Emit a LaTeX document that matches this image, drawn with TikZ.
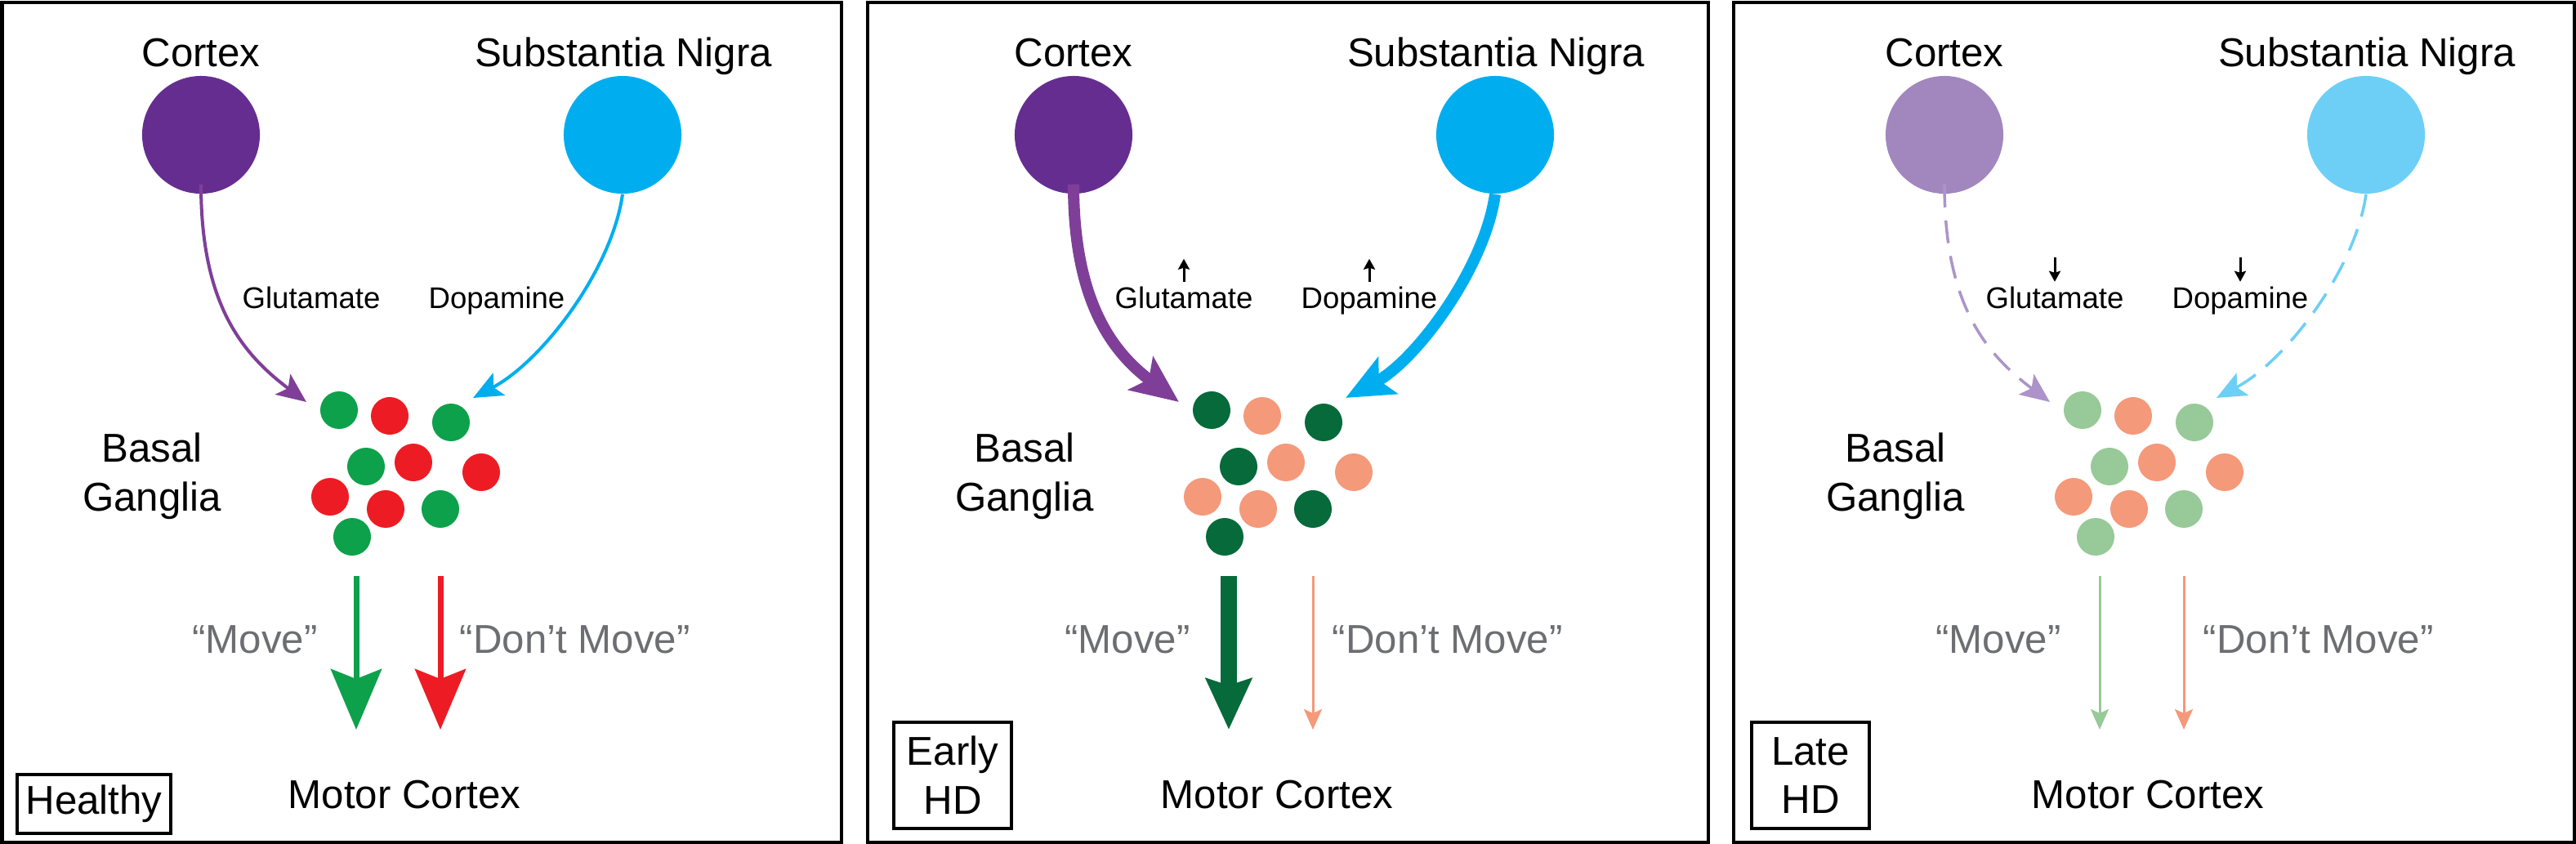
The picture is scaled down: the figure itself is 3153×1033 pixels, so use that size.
\documentclass[tikz,border=0pt]{standalone}
\usepackage{fontspec}
\setmainfont{Liberation Sans}
\usetikzlibrary{positioning,arrows.meta}

\definecolor{cortexHealthy}{RGB}{102,45,145}
\definecolor{cortexEarly}{RGB}{102,45,145}
\definecolor{cortexLate}{RGB}{161,135,190}
\definecolor{nigraHealthy}{RGB}{0,174,239}
\definecolor{nigraEarly}{RGB}{0,174,239}
\definecolor{nigraLate}{RGB}{109,207,246}
\definecolor{goHealthy}{RGB}{13,161,75}
\definecolor{stopHealthy}{RGB}{237,28,36}
\definecolor{goEarly}{RGB}{6,106,58}
\definecolor{stopEarly}{RGB}{244,153,122}
\definecolor{goLate}{RGB}{152,201,152}
\definecolor{stopLate}{RGB}{244,153,122}
\definecolor{gluPurple}{RGB}{127,63,152}
\definecolor{gluLight}{RGB}{172,148,202}
\definecolor{labelGray}{RGB}{109,110,113}

\tikzset{
  panel/.style={draw=black, line width=0.04cm},
  region/.style={circle, inner sep=0pt, minimum size=1.44cm},
  cell/.style={circle, inner sep=0pt, minimum size=0.46cm},
  bigtext/.style={font=\fontsize{14}{17}\selectfont, inner sep=0pt, anchor=base},
  smalltext/.style={font=\fontsize{10.4}{12}\selectfont, inner sep=0pt, anchor=base},
  stagebox/.style={draw, line width=0.04cm, align=center, inner sep=0pt,
    font=\fontsize{14}{17}\selectfont},
  % pathways into the basal ganglia
  pathway/.style={line width=0.04cm, -{Stealth[length=0.36cm, width=0.31cm, inset=0.08cm]}},
  strongpathway/.style={line width=0.14cm, -{Stealth[length=0.58cm, width=0.5cm, inset=0.12cm]}},
  weakpathway/.style={line width=0.035cm, dash pattern=on 0.28cm off 0.16cm,
    -{Stealth[length=0.36cm, width=0.31cm, inset=0.08cm]}},
  gluHealthy/.style={pathway, gluPurple},
  gluEarly/.style={strongpathway, gluPurple},
  gluLate/.style={weakpathway, gluLight},
  dopHealthy/.style={pathway, nigraHealthy},
  dopEarly/.style={strongpathway, nigraEarly},
  dopLate/.style={weakpathway, nigraLate},
  % outputs to the motor cortex
  motorout/.style={line width=0.07cm, -{Stealth[length=0.74cm, width=0.62cm, inset=0.12cm]}},
  strongmotorout/.style={line width=0.2cm, -{Stealth[length=0.62cm, width=0.55cm, inset=0.08cm]}},
  weakmotorout/.style={line width=0.03cm, -{Stealth[length=0.25cm, width=0.22cm, inset=0.05cm]}},
  moveArrowHealthy/.style={motorout, goHealthy},
  haltArrowHealthy/.style={motorout, stopHealthy},
  moveArrowEarly/.style={strongmotorout, goEarly},
  haltArrowEarly/.style={weakmotorout, stopEarly},
  moveArrowLate/.style={weakmotorout, goLate},
  haltArrowLate/.style={weakmotorout, stopLate},
  levelarrow/.style={line width=0.03cm, -{Stealth[length=0.13cm, width=0.14cm, inset=0.02cm]}},
}

\begin{document}
\begin{tikzpicture}[x=0.01cm, y=-0.01cm]
  \useasboundingbox (0,0) rectangle (3153,1033);

  % Frames
  \draw[panel] (2.5,2.5) rectangle (1029.5,1030.5);
  \draw[panel] (1062,2.5) rectangle (2090.5,1030.5);
  \draw[panel] (2122,2.5) rectangle (3150.5,1030.5);

  % One circuit per stage
  \foreach \stage/\dx in {Healthy/0, Early/1068, Late/2134} {
    \begin{scope}[shift={(\dx,0)}]
      \node[bigtext] (cortexText\stage) at (246,81) {Cortex};
      \node[region, fill=cortex\stage] (cortex\stage) at (246,165) {};
      \node[bigtext] (nigraText\stage) at (763,81) {Substantia Nigra};
      \node[region, fill=nigra\stage] (nigra\stage) at (762,165) {};
      \node[smalltext] (glu\stage) at (381,377) {Glutamate};
      \node[smalltext] (dop\stage) at (608,377) {Dopamine};
      \node[bigtext, anchor=center, align=center] (basal\stage) at (186,583) {Basal\\Ganglia};
      \foreach \px/\py/\kind [count=\i] in {415/502/go, 477/509/stop, 552/517/go,
          448/571/go, 506/566/stop, 589/578/stop, 404/608/stop, 472/623/stop,
          539/623/go, 431/657/go}
        \node[cell, fill=\kind\stage] (cell\stage\i) at (\px,\py) {};
      \node[bigtext, labelGray] (moveText\stage) at (312,799) {“Move”};
      \node[bigtext, labelGray, anchor=base west] (haltText\stage) at (562,799) {“Don’t Move”};
      \node[bigtext] (motor\stage) at (495,989) {Motor Cortex};

      \coordinate (gluTip\stage) at (375,492);
      \coordinate (dopTip\stage) at (579,487);
      \coordinate (moveTop\stage) at (436,705);
      \coordinate (moveTip\stage) at (436,893);
      \coordinate (haltTop\stage) at (539,705);
      \coordinate (haltTip\stage) at (539,893);

      % Arrows
      \draw[glu\stage] ([yshift=0.12cm]cortex\stage.south) .. controls +(0,145) and +(-80,-60) .. (gluTip\stage);
      \draw[dop\stage] (nigra\stage.south) .. controls +(-13,92) and +(85,-45) .. (dopTip\stage);
      \draw[moveArrow\stage] (moveTop\stage) -- (moveTip\stage);
      \draw[haltArrow\stage] (haltTop\stage) -- (haltTip\stage);
    \end{scope}
  }

  % Stage labels
  \node[stagebox, minimum width=1.88cm, minimum height=0.71cm] (stageHealthy) at (115,984) {Healthy};
  \node[stagebox, minimum width=1.44cm, minimum height=1.3cm] (stageEarly) at (1166,949) {Early\\HD};
  \node[stagebox, minimum width=1.44cm, minimum height=1.3cm] (stageLate) at (2216,949) {Late\\HD};

  % Transmitter levels
  \coordinate (gluUpEarly) at ([yshift=0.33cm]gluEarly.north);
  \coordinate (dopUpEarly) at ([yshift=0.33cm]dopEarly.north);
  \draw[levelarrow] ([yshift=0.05cm]gluEarly.north) -- (gluUpEarly);
  \draw[levelarrow] ([yshift=0.05cm]dopEarly.north) -- (dopUpEarly);
  \coordinate (gluDownLate) at ([yshift=0.35cm]gluLate.north);
  \coordinate (dopDownLate) at ([yshift=0.35cm]dopLate.north);
  \draw[levelarrow] (gluDownLate) -- ([yshift=0.05cm]gluLate.north);
  \draw[levelarrow] (dopDownLate) -- ([yshift=0.05cm]dopLate.north);
\end{tikzpicture}
\end{document}
